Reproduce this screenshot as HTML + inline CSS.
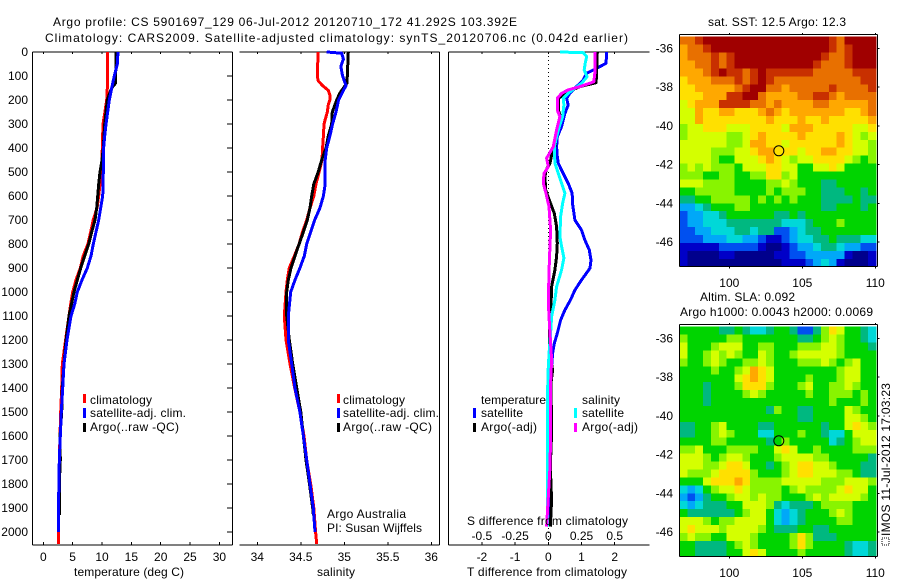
<!DOCTYPE html>
<html lang="en">
<head>
<meta charset="utf-8">
<title>Argo profile chart</title>
<style>
html,body{margin:0;padding:0;background:#fff;}
svg{display:block;}
text{font-family:"Liberation Sans",sans-serif;font-size:12px;fill:#000;}
</style>
</head>
<body>
<svg id="chart" xmlns="http://www.w3.org/2000/svg" width="900" height="580" viewBox="0 0 900 580">
  <rect x="0" y="0" width="900" height="580" fill="#fff"/>
  <text x="53" y="26" textLength="464" lengthAdjust="spacing">Argo profile: CS 5901697_129 06-Jul-2012 20120710_172 41.292S 103.392E</text>
  <text x="45" y="42" textLength="583" lengthAdjust="spacing">Climatology: CARS2009. Satellite-adjusted climatology: synTS_20120706.nc (0.042d earlier)</text>

  <g id="panels"></g>
  <g id="maps"></g>

  <text x="74" y="576" textLength="110" lengthAdjust="spacing">temperature (deg C)</text>
  <text x="317" y="576" textLength="38" lengthAdjust="spacing">salinity</text>
  <text x="467" y="576" textLength="160" lengthAdjust="spacing">T difference from climatology</text>
  <text x="467" y="525" textLength="161" lengthAdjust="spacing">S difference from climatology</text>

  <g>
    <rect x="83" y="394" width="3" height="9" fill="#f00"/>
    <text x="90" y="404" textLength="62" lengthAdjust="spacing">climatology</text>
    <rect x="83" y="408" width="3" height="10" fill="#00f"/>
    <text x="90" y="417" textLength="96" lengthAdjust="spacing">satellite-adj. clim.</text>
    <rect x="83" y="423" width="3" height="9" fill="#000"/>
    <text x="90" y="431" textLength="89" lengthAdjust="spacing">Argo(..raw -QC)</text>
  </g>
  <g>
    <rect x="337" y="394" width="3" height="9" fill="#f00"/>
    <text x="343" y="404" textLength="62" lengthAdjust="spacing">climatology</text>
    <rect x="337" y="408" width="3" height="10" fill="#00f"/>
    <text x="343" y="417" textLength="96" lengthAdjust="spacing">satellite-adj. clim.</text>
    <rect x="337" y="423" width="3" height="9" fill="#000"/>
    <text x="343" y="431" textLength="89" lengthAdjust="spacing">Argo(..raw -QC)</text>
  </g>
  <g>
    <text x="481" y="404" textLength="65" lengthAdjust="spacing">temperature</text>
    <rect x="473" y="408" width="3" height="10" fill="#00f"/>
    <text x="481" y="417" textLength="42" lengthAdjust="spacing">satellite</text>
    <rect x="473" y="423" width="3" height="9" fill="#000"/>
    <text x="481" y="431" textLength="56" lengthAdjust="spacing">Argo(-adj)</text>
    <text x="582" y="404" textLength="38" lengthAdjust="spacing">salinity</text>
    <rect x="574" y="408" width="3" height="10" fill="#0ff"/>
    <text x="582" y="417" textLength="42" lengthAdjust="spacing">satellite</text>
    <rect x="574" y="423" width="3" height="9" fill="#f0f"/>
    <text x="582" y="431" textLength="56" lengthAdjust="spacing">Argo(-adj)</text>
  </g>
  <text x="327" y="518" textLength="79" lengthAdjust="spacing">Argo Australia</text>
  <text x="327" y="532" textLength="95" lengthAdjust="spacing">PI: Susan Wijffels</text>

  <text x="708" y="26" textLength="138" lengthAdjust="spacing">sat. SST: 12.5 Argo: 12.3</text>
  <text x="700" y="301" textLength="95" lengthAdjust="spacing">Altim. SLA: 0.092</text>
  <text x="680" y="316" textLength="193" lengthAdjust="spacing">Argo h1000: 0.0043 h2000: 0.0069</text>
  <text transform="translate(890,536) rotate(-90)" textLength="153" lengthAdjust="spacing">IMOS 11-Jul-2012 17:03:23</text>
  <rect x="882" y="538" width="7" height="7" fill="none" stroke="#000" stroke-dasharray="1 1"/>
</svg>
<script>
/* ---------- temperature panel data ---------- */
const tempTicks = [0, 5, 10, 15, 20, 25, 30];
const depthTicks = [0,100,200,300,400,500,600,700,800,900,1000,1100,1200,1300,1400,1500,1600,1700,1800,1900,2000];
const climTempDepth = [0,100,150,200,250,300,400,450,500,550,600,650,700,750,800,850,900,950,1000,1050,1100,1200,1300,1400,1500,1600,1700,1800,1900,2000,2050];
const climTemp = [10.97,10.97,10.9,10.8,10.5,10.17,10.05,10,9.78,9.66,9.43,9.15,8.5,8.07,7.6,6.8,6.3,5.57,5,4.66,4.38,3.8,3.24,3.13,2.96,2.85,2.73,2.67,2.56,2.56,2.56];
const argoTempDepth = [0,100,130,150,180,200,250,300,350,400,450,500,550,600,650,700,750,800,850,900,950,1000,1100,1200,1300,1400,1500,1600,1700,1800,1900,1930];
const argoTemp = [12.38,12.33,12.3,11.65,11.2,10.9,10.68,10.46,10.34,10.22,10,9.66,9.43,9.27,9.1,8.8,8.24,7.73,7.05,6.37,5.79,5.23,4.38,3.87,3.53,3.24,3.13,2.85,2.9,2.73,2.73,2.73];
const satTempDepth = [0,50,100,150,200,250,300,350,400,500,600,650,700,750,800,850,900,950,1000,1050,1100,1200,1300,1400,1500,1600,1700,1800,1900,2000];
const satTemp = [12.72,12.6,12.1,11.65,11.25,10.97,10.68,10.46,10.28,10.22,10.12,9.78,9.43,8.98,8.52,8.13,7.5,6.6,5.8,5.35,4.72,4.04,3.53,3.3,3.07,2.9,2.73,2.67,2.56,2.56];

/* ---------- salinity panel data ---------- */
const salTicks = [34, 34.5, 35, 35.5, 36];
const climSalDepth = [0,50,100,120,140,160,180,200,220,250,300,350,400,450,500,550,600,650,700,750,800,850,900,950,1000,1100,1200,1300,1400,1500,1600,1700,1800,1900,2000,2050];
const climSal = [34.7,34.694,34.69,34.7,34.75,34.816,34.835,34.835,34.816,34.805,34.767,34.76,34.75,34.744,34.71,34.675,34.65,34.606,34.568,34.52,34.48,34.425,34.368,34.345,34.33,34.31,34.33,34.376,34.43,34.49,34.537,34.568,34.614,34.65,34.67,34.683];
const argoSalDepth = [0,50,100,130,170,200,250,300,350,400,450,500,550,600,650,700,750,800,850,900,950,1000,1100,1200,1300,1400,1500,1600,1700,1800,1900,1930];
const argoSal = [35.046,35.04,35.035,35.03,34.95,34.913,34.862,34.855,34.816,34.79,34.74,34.7,34.65,34.625,34.606,34.575,34.53,34.48,34.433,34.387,34.356,34.338,34.338,34.368,34.407,34.453,34.5,34.53,34.56,34.6,34.637,34.645];
const satSalDepth = [0,5,30,60,100,140,160,200,250,300,350,400,450,550,600,650,700,750,800,850,900,950,1000,1100,1200,1300,1400,1500,1600,1700,1800,1900,2000];
const satSal = [34.798,34.97,34.99,34.96,34.98,35.02,34.99,34.935,34.905,34.866,34.835,34.798,34.78,34.78,34.76,34.72,34.66,34.614,34.568,34.54,34.49,34.433,34.384,34.356,34.356,34.395,34.433,34.49,34.53,34.568,34.606,34.644,34.663];

/* ---------- difference panel data ---------- */
const tDiffTicks = [-2, -1, 0, 1, 2];
const sDiffTickLabels = ['-0.5', '-0.25', '0', '0.25', '0.5'];
const sDiffTicks = [-0.5, -0.25, 0, 0.25, 0.5];
const satTDiffDepth = [0,47,68,89,117,144,172,193,221,256,311,353,394,436,464,506,547,589,631,700,742,783,825,867,901,950,992,1033,1075,1117,1172,1214,1256,1311,1450,1728,1978];
const satTDiff = [1.757,1.74,1.456,1.155,1.05,0.85,0.65,0.55,0.6,0.5,0.4,0.27,0.25,0.27,0.3,0.45,0.6,0.72,0.73,0.8,1,1.1,1.235,1.285,1.255,1,0.8,0.67,0.5,0.37,0.27,0.18,0.13,0.1,0.06,0.05,0.05];
const argoTDiffDepth = [0,89,128,144,165,193,242,269,325,394,429,464,492,520,575,617,672,728,797,853,908,978,1061,1172,1242,1325,1380,1589,1728,1867,1978];
const argoTDiff = [1.476,1.456,1.44,0.95,0.6,0.3,0.3,0.37,0.27,0.2,0.1,0.05,-0.07,-0.1,-0.08,0.03,0.18,0.25,0.27,0.25,0.2,0.1,0.08,0.03,0.03,0.13,0.08,0.1,0.06,0.1,0.06];
const satSDiffDepth = [0,3,19,47,75,103,131,151,172,193,221,269,325,394,464,506,547,589,631,686,769,811,858,908,978,1033,1103,1172,1242,1311,1450,1728,1978];
const satSDiff = [0.0875,0.2625,0.289,0.2775,0.27,0.2925,0.25,0.2,0.15,0.1125,0.1175,0.1075,0.075,0.045,0.05,0.075,0.1,0.125,0.1075,0.0925,0.0875,0.1,0.1175,0.1,0.0625,0.05,0.025,0.0175,0.0075,0,-0.0075,-0.0075,-0.0075];
const argoSDiffDepth = [0,89,124,144,158,172,193,242,269,325,394,443,478,506,547,589,644,742,881,1033,1103,1283,1380,1589,1728,1978];
const argoSDiff = [0.35,0.35,0.3425,0.2375,0.15,0.1,0.0675,0.0675,0.0875,0.0625,0.0375,-0.0125,0,-0.0325,-0.0375,-0.0175,0.005,0.0175,0.0075,0,0.005,0.025,0.0175,0.0175,0.0125,-0.0125];

/* ---------- map data (palette index per cell, north row first) ---------- */
const mapPalette = ['#00008c','#0000c8','#0050f0','#00a8f8','#00d8d8','#00b880','#00d400','#88f400','#d4ff00','#ffe000','#ffa800','#e87000','#c83000','#a00000'];
const lonTicks = [100, 105, 110];
const latTicks = [-36, -38, -40, -42, -44, -46];
const argoLon = 103.392;
const argoLat = -41.292;
const sstGrid = [
[11,11,12,13,13,13,13,13,13,13,13,13,13,13,13,13,13,13,13,12,11,13,13,13,13],
[10,11,11,12,13,13,13,13,13,13,13,13,13,13,13,13,13,13,13,12,11,12,13,13,13],
[10,11,11,11,12,11,12,13,13,13,13,13,13,13,13,13,13,13,12,11,11,12,13,13,13],
[10,10,11,11,12,11,12,13,13,13,13,13,13,13,13,13,13,12,11,11,11,12,13,13,13],
[10,10,10,11,12,13,12,12,11,12,13,12,12,12,12,12,12,11,11,11,11,11,12,12,12],
[9,10,10,10,11,11,11,12,11,12,13,12,11,11,11,11,11,11,11,11,11,11,11,12,12],
[9,9,10,10,10,10,10,11,12,13,13,11,11,10,11,11,11,11,11,12,11,11,11,11,12],
[9,9,9,10,10,10,12,12,13,13,11,10,10,10,10,11,11,12,12,11,10,11,11,11,11],
[8,9,10,10,10,12,12,12,12,11,11,10,11,10,10,10,10,11,11,10,10,10,10,10,11],
[8,8,10,9,9,10,10,9,9,9,10,11,10,9,10,10,10,10,10,10,10,9,9,10,11],
[8,8,10,9,9,9,9,9,9,9,9,10,9,9,9,10,9,9,10,9,9,9,9,9,10],
[7,8,8,9,9,9,8,8,8,9,9,9,9,8,10,10,10,9,9,9,9,9,8,8,9],
[7,8,8,8,8,8,7,7,8,9,10,9,9,9,9,10,9,9,9,9,10,9,8,7,8],
[8,8,8,8,8,8,7,7,8,10,10,9,9,8,9,9,9,9,9,9,10,9,8,8,7],
[8,8,8,8,7,7,7,8,8,9,10,10,9,9,9,8,9,9,10,10,9,9,8,8,7],
[8,8,8,8,7,6,6,8,8,8,9,10,9,8,7,8,8,9,9,9,9,8,7,6,7],
[7,8,7,8,7,7,7,6,8,8,8,9,9,8,8,6,6,8,8,9,8,6,6,6,6],
[7,7,7,6,6,7,7,6,6,7,7,9,9,7,8,6,6,6,6,6,6,6,6,6,6],
[8,8,8,7,7,7,7,6,6,6,6,7,7,8,7,6,6,6,5,5,6,6,6,6,6],
[6,6,7,7,7,7,7,6,6,6,6,7,6,7,7,7,6,6,5,5,5,6,6,5,6],
[5,5,6,6,7,7,7,7,7,6,7,6,7,6,7,6,6,6,5,5,5,5,6,5,5],
[3,3,4,5,6,6,6,7,7,6,6,6,6,6,6,6,6,6,5,5,6,6,6,5,6],
[2,3,3,4,4,5,6,6,6,6,6,6,5,5,6,5,6,6,6,6,6,6,6,6,6],
[2,3,3,4,4,4,5,5,5,5,5,5,5,4,4,4,5,6,6,6,7,6,6,6,6],
[2,2,3,3,4,4,4,5,5,4,5,5,2,2,3,4,5,5,6,6,6,6,6,6,6],
[2,2,2,3,3,3,4,4,3,3,2,1,1,2,3,4,4,5,5,6,5,5,5,4,4],
[1,1,1,1,1,2,2,2,2,2,1,0,0,1,2,3,3,4,5,5,4,3,3,2,2],
[1,0,0,0,0,1,1,0,0,0,0,0,1,1,2,2,3,3,3,3,3,1,0,0,1],
[1,0,0,0,0,0,0,0,0,0,0,0,0,1,1,1,2,3,4,3,1,0,0,0,1]
];
const slaGrid = [
[6,6,6,6,6,5,5,6,5,4,4,5,6,6,5,2,2,5,7,9,8,6,6,5,4],
[7,6,6,6,6,6,7,7,6,6,6,6,6,6,6,5,5,6,7,8,7,6,6,5,4],
[8,6,6,6,7,8,8,8,6,6,7,7,6,6,6,7,7,7,8,8,7,6,6,6,5],
[8,6,6,7,8,7,8,7,6,6,8,7,6,6,7,8,8,8,8,8,7,6,6,6,6],
[7,6,6,7,8,7,6,6,7,7,8,7,6,6,6,7,7,7,8,7,6,7,8,6,6],
[6,6,6,6,7,6,6,7,8,10,9,8,6,6,6,6,6,6,6,6,7,8,8,6,6],
[6,6,6,6,6,6,6,8,9,10,9,8,6,6,6,6,7,6,6,6,7,8,8,6,6],
[6,6,6,5,6,6,6,7,9,9,9,7,6,6,6,7,8,6,6,7,7,8,7,6,6],
[6,6,6,5,6,6,6,6,7,8,7,6,6,6,6,6,7,6,6,7,7,7,6,7,6],
[6,6,6,5,6,6,6,6,6,6,6,6,6,6,6,6,6,6,6,7,6,6,6,7,6],
[6,6,6,6,6,6,6,6,6,6,6,5,7,6,6,5,5,6,6,6,6,8,7,6,6],
[6,6,6,6,6,6,6,6,6,6,6,6,6,6,6,5,5,6,6,6,6,8,8,7,6],
[5,5,6,6,7,8,6,6,6,6,5,5,6,6,6,6,6,6,5,6,6,8,9,8,7],
[5,5,6,6,7,8,7,6,6,6,4,4,6,6,6,7,6,6,5,4,4,6,8,8,8],
[6,6,6,6,7,7,6,6,6,6,6,5,6,7,6,6,6,6,6,4,5,6,7,8,8],
[7,7,8,6,6,6,7,7,7,7,6,6,8,9,8,6,6,7,6,6,6,6,7,7,7],
[8,8,8,7,6,7,8,8,7,6,6,6,7,8,8,8,8,7,7,6,6,6,6,6,5],
[8,8,8,7,7,8,9,9,8,6,6,5,6,7,8,9,9,8,8,7,6,6,6,5,5],
[8,7,7,7,8,9,9,9,9,7,6,6,6,7,8,9,9,8,8,8,7,7,6,5,5],
[6,6,6,8,9,9,9,10,9,7,7,7,7,8,8,8,8,8,7,7,7,8,8,8,7],
[4,3,4,6,7,8,8,9,8,7,7,7,7,6,7,8,7,7,7,7,8,9,8,8,6],
[3,2,3,5,6,6,7,8,8,7,8,7,7,6,6,6,7,8,7,8,8,8,8,7,6],
[4,3,4,5,5,5,6,6,8,8,8,7,5,4,5,5,5,6,7,7,7,7,6,6,6],
[6,5,5,5,5,5,5,6,7,8,8,6,4,3,4,5,6,6,6,7,8,7,6,6,6],
[8,8,8,7,6,7,7,8,8,8,8,6,4,3,4,5,6,6,6,6,7,7,6,6,6],
[8,9,8,8,8,7,8,8,8,8,7,6,5,5,5,6,6,5,5,6,6,6,6,6,6],
[7,8,7,7,6,6,8,8,8,7,6,6,6,6,7,9,7,5,5,5,6,6,6,6,6],
[6,6,5,5,5,5,6,7,8,7,6,6,6,6,7,9,7,6,6,6,6,5,4,4,5],
[6,6,5,5,5,5,6,6,8,9,8,6,6,6,6,7,6,6,6,6,6,5,4,4,5]
];

/* ---------- helpers and axis functions ---------- */
const NS = 'http://www.w3.org/2000/svg';
const panelsRoot = document.getElementById('panels');
const mapsRoot = document.getElementById('maps');
function node(parent, tag, attrs) {
  const el = document.createElementNS(NS, tag);
  for (const k in attrs) el.setAttribute(k, attrs[k]);
  parent.appendChild(el);
  return el;
}
function label(parent, x, y, str, anchor) {
  const el = node(parent, 'text', {x: x, y: y, 'text-anchor': anchor || 'middle'});
  el.textContent = str;
  return el;
}
const yDepth = d => 52 + d * 0.24;
const xTemp = v => 43.3 + v * 5.87;
const xSal = v => 257.3 + (v - 34) * 87;
const xTDiff = v => 548.3 + v * 33.2;
const xSDiff = v => 548.3 + v * 132.8;
const PANEL_TOP = 52, PANEL_BOTTOM = 545;

function line(parent, x1, y1, x2, y2) {
  return node(parent, 'line', {x1: x1, y1: y1, x2: x2, y2: y2, stroke: '#000', 'stroke-width': 1, 'shape-rendering': 'crispEdges'});
}
function drawSeries(parent, depths, values, xFn, colour, name) {
  const pts = depths.map((d, i) => xFn(values[i]).toFixed(1) + ',' + yDepth(d).toFixed(1)).join(' ');
  const el = node(parent, 'polyline', {points: pts, fill: 'none', stroke: colour, 'stroke-width': 3, 'stroke-linejoin': 'round', 'shape-rendering': 'crispEdges'});
  
  
}

/* temperature panel */
const tempPanel = node(panelsRoot, 'g', {});


line(tempPanel, 32.5, PANEL_TOP, 232.5, PANEL_TOP);
line(tempPanel, 32.5, PANEL_BOTTOM, 232.5, PANEL_BOTTOM);
line(tempPanel, 32.5, PANEL_TOP, 32.5, PANEL_BOTTOM);
line(tempPanel, 232.5, PANEL_TOP, 232.5, PANEL_BOTTOM);
depthTicks.forEach(d => {
  line(tempPanel, 227, yDepth(d), 232, yDepth(d));
  const t = label(tempPanel, 28, yDepth(d) + 4, String(d), 'end');
  
  
});
tempTicks.forEach(v => {
  line(tempPanel, xTemp(v), PANEL_TOP, xTemp(v), PANEL_TOP + 2);
  line(tempPanel, xTemp(v), PANEL_BOTTOM - 3, xTemp(v), PANEL_BOTTOM);
  const t = label(tempPanel, xTemp(v), 561, String(v));
  
  
});
drawSeries(tempPanel, climTempDepth, climTemp, xTemp, '#f00', 'temperature-climatology-line');
drawSeries(tempPanel, argoTempDepth, argoTemp, xTemp, '#000', 'temperature-argo-line');
drawSeries(tempPanel, satTempDepth, satTemp, xTemp, '#00f', 'temperature-satellite-line');

/* salinity panel */
const salPanel = node(panelsRoot, 'g', {});


line(salPanel, 239.5, PANEL_TOP, 439.5, PANEL_TOP);
line(salPanel, 239.5, PANEL_BOTTOM, 439.5, PANEL_BOTTOM);
line(salPanel, 439.5, PANEL_TOP, 439.5, PANEL_BOTTOM);
salTicks.forEach(v => {
  line(salPanel, xSal(v), PANEL_TOP, xSal(v), PANEL_TOP + 2);
  line(salPanel, xSal(v), PANEL_BOTTOM - 3, xSal(v), PANEL_BOTTOM);
  const t = label(salPanel, xSal(v), 561, String(v));
  
  
});
drawSeries(salPanel, climSalDepth, climSal, xSal, '#f00', 'salinity-climatology-line');
drawSeries(salPanel, argoSalDepth, argoSal, xSal, '#000', 'salinity-argo-line');
drawSeries(salPanel, satSalDepth, satSal, xSal, '#00f', 'salinity-satellite-line');

/* difference panel */
const diffPanel = node(panelsRoot, 'g', {});


line(diffPanel, 448.5, PANEL_TOP, 649.5, PANEL_TOP);
line(diffPanel, 448.5, PANEL_BOTTOM, 649.5, PANEL_BOTTOM);
line(diffPanel, 448.5, PANEL_TOP, 448.5, PANEL_BOTTOM);
const zeroLine = line(diffPanel, xTDiff(0), PANEL_TOP, xTDiff(0), PANEL_BOTTOM);
zeroLine.setAttribute('stroke-dasharray', '1 3');


tDiffTicks.forEach(v => {
  line(diffPanel, xTDiff(v), PANEL_TOP, xTDiff(v), PANEL_TOP + 2);
  line(diffPanel, xTDiff(v), PANEL_BOTTOM - 3, xTDiff(v), PANEL_BOTTOM);
  const t = label(diffPanel, xTDiff(v), 561, String(v));
  
  
});
sDiffTicks.forEach((v, i) => {
  const t = label(diffPanel, xSDiff(v), 540, sDiffTickLabels[i]);
  
  
});
drawSeries(diffPanel, satTDiffDepth, satTDiff, xTDiff, '#00f', 't-difference-satellite-line');
drawSeries(diffPanel, argoTDiffDepth, argoTDiff, xTDiff, '#000', 't-difference-argo-line');
drawSeries(diffPanel, satSDiffDepth, satSDiff, xSDiff, '#0ff', 's-difference-satellite-line');
drawSeries(diffPanel, argoSDiffDepth, argoSDiff, xSDiff, '#f0f', 's-difference-argo-line');

/* maps */
const xLon = lon => 729.3 + (lon - 100) * 14.6;
function drawMap(grid, offsetY, name) {
  const yLat = lat => offsetY + 48.3 + (-36 - lat) * 19.37;
  const g = node(mapsRoot, 'g', {});
  
  
  const left = 679.5, right = 876, top = offsetY + 36.7, bottom = offsetY + 266.7;
  const cellH = (bottom - top) / grid.length;
  grid.forEach((row, r) => {
    const cellW = (right - left) / row.length;
    row.forEach((v, c) => {
      const cell = node(g, 'rect', {x: left + c * cellW, y: top + r * cellH, width: cellW + 0.5, height: cellH + 0.5, fill: mapPalette[v], 'shape-rendering': 'crispEdges'});
      
      
    });
  });
  line(g, 679.5, offsetY + 34.5, 877.5, offsetY + 34.5);
  line(g, 679.5, bottom, 877.5, bottom);
  line(g, 679.5, offsetY + 34.5, 679.5, bottom);
  line(g, 877.5, offsetY + 34.5, 877.5, bottom);
  lonTicks.forEach(lon => {
    line(g, xLon(lon), offsetY + 33, xLon(lon), offsetY + 35);
    line(g, xLon(lon), bottom, xLon(lon), bottom + 2);
    const t = label(g, xLon(lon), offsetY + 287, String(lon));
    
    
  });
  latTicks.forEach(lat => {
    line(g, 877.5, yLat(lat), 879.5, yLat(lat));
    const t = label(g, 673, yLat(lat) + 4, String(lat), 'end');
    
    
  });
  const marker = node(g, 'circle', {cx: xLon(argoLon), cy: yLat(argoLat), r: 5, fill: 'none', stroke: '#000', 'stroke-width': 1});
  
  
}
drawMap(sstGrid, 0, 'sst-map');
drawMap(slaGrid, 290, 'sla-map');
</script>
</body>
</html>
